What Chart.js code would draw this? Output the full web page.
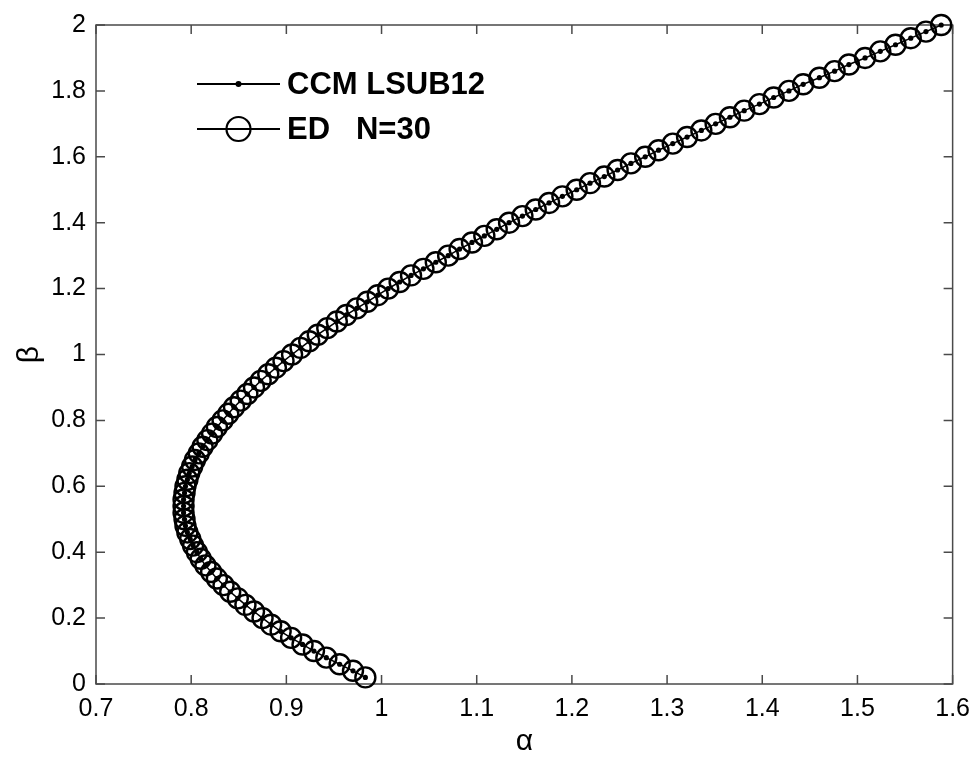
<!DOCTYPE html>
<html>
<head>
<meta charset="utf-8">
<script src="https://cdn.jsdelivr.net/npm/chart.js@4.4.1/dist/chart.umd.min.js"></script>
<style>
  html, body { margin: 0; background: #fff; }
  #wrap { width: 980px; height: 762px; }
</style>
</head>
<body>
<div id="wrap"><canvas id="myChart"></canvas></div>
<script>
// beta values (y) shared by both curves
const beta = [
  0.02, 0.04, 0.06, 0.08, 0.10, 0.12, 0.14, 0.16, 0.18, 0.20,
  0.22, 0.24, 0.26, 0.28, 0.30, 0.32, 0.34, 0.36, 0.38, 0.40,
  0.42, 0.44, 0.46, 0.48, 0.50, 0.52, 0.54, 0.56, 0.58, 0.60,
  0.62, 0.64, 0.66, 0.68, 0.70, 0.72, 0.74, 0.76, 0.78, 0.80,
  0.82, 0.84, 0.86, 0.88, 0.90, 0.92, 0.94, 0.96, 0.98, 1.00,
  1.02, 1.04, 1.06, 1.08, 1.10, 1.12, 1.14, 1.16, 1.18, 1.20,
  1.22, 1.24, 1.26, 1.28, 1.30, 1.32, 1.34, 1.36, 1.38, 1.40,
  1.42, 1.44, 1.46, 1.48, 1.50, 1.52, 1.54, 1.56, 1.58, 1.60,
  1.62, 1.64, 1.66, 1.68, 1.70, 1.72, 1.74, 1.76, 1.78, 1.80,
  1.82, 1.84, 1.86, 1.88, 1.90, 1.92, 1.94, 1.96, 1.98, 2.00
];

const alphaEd = [
  0.983, 0.970, 0.956, 0.942, 0.929, 0.917, 0.905, 0.894, 0.884, 0.875,
  0.866, 0.857, 0.849, 0.841, 0.834, 0.827, 0.821, 0.815, 0.810, 0.806,
  0.802, 0.799, 0.796, 0.794, 0.793, 0.792, 0.792, 0.792, 0.793, 0.794,
  0.796, 0.798, 0.801, 0.804, 0.808, 0.812, 0.817, 0.822, 0.827, 0.833,
  0.839, 0.845, 0.852, 0.859, 0.866, 0.873, 0.881, 0.889, 0.897, 0.906,
  0.915, 0.924, 0.933, 0.943, 0.953, 0.963, 0.974, 0.985, 0.996, 1.007,
  1.019, 1.031, 1.044, 1.057, 1.070, 1.082, 1.095, 1.108, 1.121, 1.134,
  1.148, 1.162, 1.176, 1.190, 1.205, 1.219, 1.234, 1.248, 1.262, 1.277,
  1.291, 1.306, 1.321, 1.336, 1.351, 1.366, 1.381, 1.397, 1.412, 1.428,
  1.443, 1.460, 1.476, 1.491, 1.508, 1.524, 1.540, 1.556, 1.572, 1.588
];

// the CCM curve lies on top of the ED circles
const alphaCcm = alphaEd.slice();

const xTicks = [0.7, 0.8, 0.9, 1.0, 1.1, 1.2, 1.3, 1.4, 1.5, 1.6];
const yTicks = [0, 0.2, 0.4, 0.6, 0.8, 1.0, 1.2, 1.4, 1.6, 1.8, 2.0];

const labels = ['CCM LSUB12', 'ED   N=30'];

const toPoints = (xs, ys) => xs.map((x, i) => ({ x: x, y: ys[i] }));
const fmt = v => String(+v.toFixed(1));

// box + inward ticks on all four sides
const framePlugin = {
  id: 'frame',
  beforeDatasetsDraw(chart) {
    const { ctx, chartArea: a, scales } = chart;
    const len = 9;
    ctx.save();
    ctx.strokeStyle = '#4a4a4a';
    ctx.lineWidth = 1.5;
    ctx.strokeRect(a.left, a.top, a.right - a.left, a.bottom - a.top);
    ctx.beginPath();
    xTicks.forEach(v => {
      const px = scales.x.getPixelForValue(v);
      ctx.moveTo(px, a.bottom); ctx.lineTo(px, a.bottom - len);
      ctx.moveTo(px, a.top); ctx.lineTo(px, a.top + len);
    });
    yTicks.forEach(v => {
      const py = scales.y.getPixelForValue(v);
      ctx.moveTo(a.left, py); ctx.lineTo(a.left + len, py);
      ctx.moveTo(a.right, py); ctx.lineTo(a.right - len, py);
    });
    ctx.stroke();
    ctx.restore();
  }
};

// legend drawn inside the plot, top left
const legendPlugin = {
  id: 'innerLegend',
  afterDraw(chart) {
    const ctx = chart.ctx;
    const x0 = 197, x1 = 280, rows = [84, 129];
    ctx.save();
    ctx.strokeStyle = '#000';
    ctx.fillStyle = '#000';
    // CCM line with dot
    ctx.lineWidth = 1.8;
    ctx.beginPath(); ctx.moveTo(x0, rows[0]); ctx.lineTo(x1, rows[0]); ctx.stroke();
    ctx.beginPath(); ctx.arc((x0 + x1) / 2, rows[0], 3, 0, Math.PI * 2); ctx.fill();
    // ED line with circle
    ctx.beginPath(); ctx.moveTo(x0, rows[1]); ctx.lineTo(x1, rows[1]); ctx.stroke();
    ctx.lineWidth = 2.2;
    ctx.fillStyle = '#fff';
    ctx.beginPath(); ctx.arc((x0 + x1) / 2, rows[1], 12, 0, Math.PI * 2); ctx.fill(); ctx.stroke();
    ctx.beginPath(); ctx.moveTo(x0, rows[1]); ctx.lineTo(x1, rows[1]); ctx.lineWidth = 1.8; ctx.stroke();
    ctx.fillStyle = '#000';
    ctx.font = 'bold 31px "Liberation Sans", Arial, sans-serif';
    ctx.textBaseline = 'middle';
    ctx.fillText(labels[0], 287, rows[0] + 1);
    ctx.fillText(labels[1], 287, rows[1] + 1);
    ctx.restore();
  }
};

const tickFont = { family: '"Liberation Sans", Arial, sans-serif', size: 25 };
const titleFont = { family: '"Liberation Sans", Arial, sans-serif', size: 30 };

new Chart(document.getElementById('myChart'), {
  type: 'scatter',
  data: {
    datasets: [
      {
        label: labels[1],
        data: toPoints(alphaEd, beta),
        showLine: false,
        pointStyle: 'circle',
        pointRadius: 10,
        pointBorderWidth: 2.4,
        pointBorderColor: '#000',
        pointBackgroundColor: 'rgba(0,0,0,0)',
        clip: false
      },
      {
        label: labels[0],
        data: toPoints(alphaCcm, beta),
        showLine: true,
        borderColor: '#000',
        borderWidth: 1.5,
        pointRadius: 2.6,
        pointBorderWidth: 0,
        pointBackgroundColor: '#000',
        clip: false
      }
    ]
  },
  options: {
    responsive: true,
    maintainAspectRatio: false,
    animation: false,
    layout: { padding: { top: 18, right: 25, left: 0, bottom: 0 } },
    plugins: {
      legend: { display: false },
      tooltip: { enabled: false }
    },
    scales: {
      x: {
        type: 'linear',
        min: 0.7,
        max: 1.6,
        afterBuildTicks: s => { s.ticks = xTicks.map(v => ({ value: v })); },
        afterFit: s => { s.height = 78; },
        grid: { display: false, drawTicks: false },
        border: { display: false },
        ticks: { color: '#000', font: tickFont, padding: 10, callback: fmt, maxRotation: 0 },
        title: {
          display: true,
          text: 'α',
          color: '#000',
          font: titleFont,
          padding: { top: 0, bottom: 2 }
        }
      },
      y: {
        type: 'linear',
        min: 0,
        max: 2,
        afterBuildTicks: s => { s.ticks = yTicks.map(v => ({ value: v })); },
        afterFit: s => { s.width = 96; },
        grid: { display: false, drawTicks: false },
        border: { display: false },
        ticks: { color: '#000', font: tickFont, padding: 10, callback: fmt },
        title: {
          display: true,
          text: 'β',
          color: '#000',
          font: titleFont,
          padding: { top: 12, bottom: 12 }
        }
      }
    }
  },
  plugins: [framePlugin, legendPlugin]
});
</script>
</body>
</html>
